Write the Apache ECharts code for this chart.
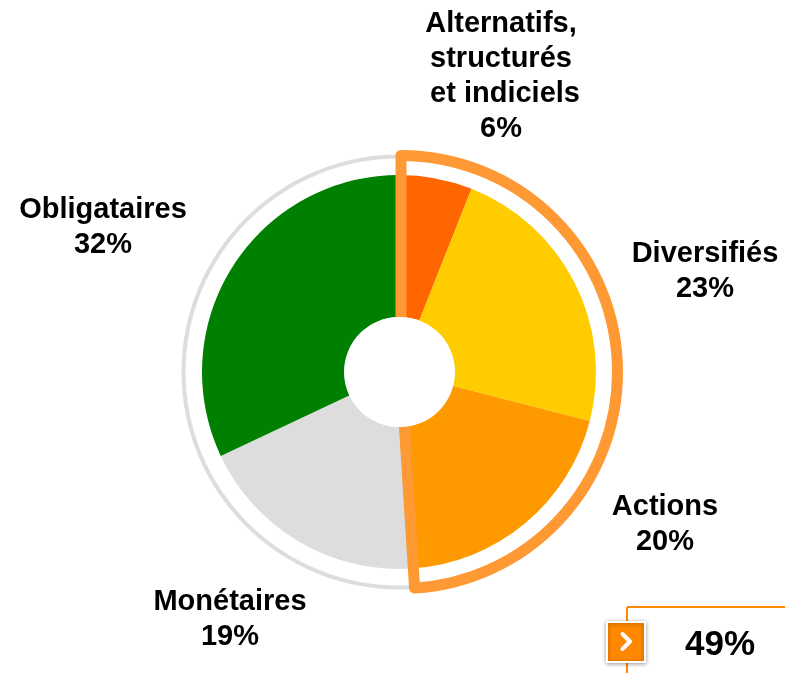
<!DOCTYPE html>
<html>
<head>
<meta charset="utf-8">
<script src="https://cdn.jsdelivr.net/npm/echarts@6/dist/echarts.min.js"></script>
<style>html,body{margin:0;padding:0;background:#fff}#c{width:785px;height:673px}</style>
</head>
<body>
<div id="c"></div>
<script>
// Data
var categories = ['Alternatifs,\nstructurés\n et indiciels', 'Diversifiés', 'Actions', 'Monétaires', 'Obligataires'];
var values = [6, 23, 20, 19, 32];
var colors = ['#FF6600', '#FFCC00', '#FF9900', '#DDDDDD', '#008000'];
var highlightedCount = 3; // first three categories are outlined
// Label anchor positions (layout, separate from data)
var labelPos = [[501, 76], [705, 271], [665, 524], [230, 619], [103, 227]];

var highlightedSum = values.slice(0, highlightedCount).reduce(function (a, b) { return a + b; }, 0);
var totalSum = values.reduce(function (a, b) { return a + b; }, 0);

var chart = echarts.init(document.getElementById('c'), null, { renderer: 'canvas' });
var FONT = '"Liberation Sans", Arial, sans-serif';

var option = {
  animation: false,
  backgroundColor: '#ffffff',
  series: [
    {
      // outer gray ring
      type: 'pie', silent: true, z: 1,
      center: [399, 372], radius: [213.5, 217.5],
      label: { show: false }, labelLine: { show: false },
      itemStyle: { color: '#DDDDDD' },
      data: [{ value: 1 }]
    },
    {
      type: 'pie', silent: true, z: 2,
      center: [399, 372], radius: [55, 197],
      startAngle: 90, clockwise: true,
      data: categories.map(function (n, i) {
        return { name: n, value: values[i], itemStyle: { color: colors[i] } };
      }),
      label: {
        show: true, position: 'outside',
        formatter: '{b}\n{c}%',
        fontFamily: FONT, fontWeight: 'bold', fontSize: 29, lineHeight: 35,
        color: '#000000', align: 'center'
      },
      labelLine: { show: false },
      labelLayout: function (p) {
        return { x: labelPos[p.dataIndex][0], y: labelPos[p.dataIndex][1], align: 'center', verticalAlign: 'middle', hideOverlap: false, moveOverlap: false };
      }
    },
    {
      // orange outline of highlighted group
      type: 'pie', silent: true, z: 3,
      center: [401, 372], radius: [0, 216.5],
      startAngle: 90, clockwise: true,
      label: { show: false }, labelLine: { show: false },
      data: [
        { value: highlightedSum, itemStyle: { color: 'rgba(0,0,0,0)', borderColor: '#FF9933', borderWidth: 11, borderJoin: 'round' } },
        { value: totalSum - highlightedSum, itemStyle: { color: 'rgba(0,0,0,0)', borderWidth: 0 } }
      ]
    },
    {
      // center hole
      type: 'pie', silent: true, z: 4,
      center: [400, 372], radius: [0, 55],
      label: { show: false }, labelLine: { show: false },
      itemStyle: { color: '#ffffff' },
      data: [{ value: 1 }]
    }
  ],
  graphic: [
    { type: 'line', z: 10, shape: { x1: 627, y1: 607, x2: 785, y2: 607 }, style: { stroke: '#FF8800', lineWidth: 2 } },
    { type: 'line', z: 10, shape: { x1: 627, y1: 607, x2: 627, y2: 673 }, style: { stroke: '#FF8800', lineWidth: 2 } },
    { type: 'rect', z: 11, shape: { x: 607, y: 622, width: 38, height: 40 },
      style: { fill: '#FF8800', stroke: '#ffffff', lineWidth: 2, shadowBlur: 4, shadowColor: 'rgba(0,0,0,0.35)', shadowOffsetX: 0, shadowOffsetY: 1 } },
    { type: 'polyline', z: 12, shape: { points: [[622.5, 634], [630, 641.5], [622.5, 649]] },
      style: { stroke: '#ffffff', lineWidth: 4, fill: null, lineCap: 'round', lineJoin: 'round' } },
    { type: 'text', z: 12, style: { text: highlightedSum + '%', x: 720, y: 645, align: 'center', verticalAlign: 'middle',
      font: 'bold 35px ' + FONT, fill: '#000000' } }
  ]
};
chart.setOption(option);
</script>
</body>
</html>
